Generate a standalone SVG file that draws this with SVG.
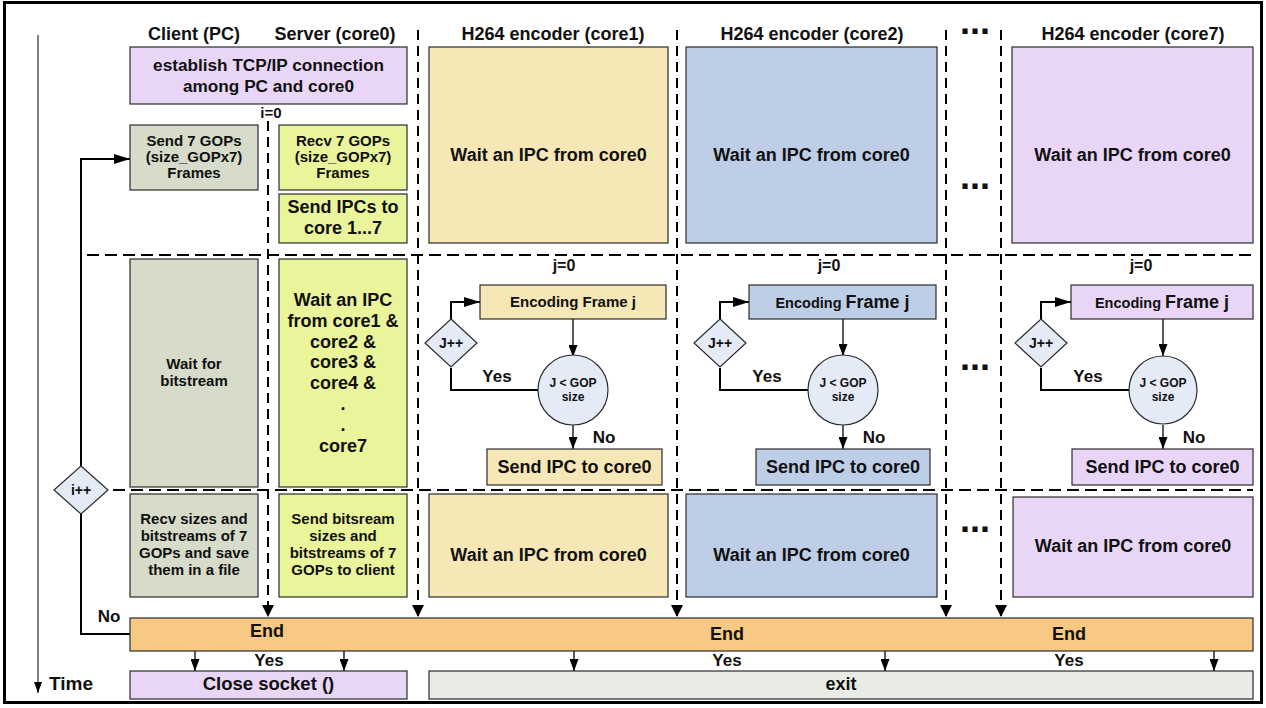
<svg xmlns="http://www.w3.org/2000/svg" width="1266" height="708" viewBox="0 0 1266 708">
<style>
text{font-family:"Liberation Sans",Arial,sans-serif;font-weight:bold;fill:#111;text-anchor:middle}
.box{stroke:#2b2b2b;stroke-width:1.2}
.tan{fill:#F6E7B6}.blue{fill:#BDCEE6}.pur{fill:#E9D6F6}.gg{fill:#D6DCC9}.yg{fill:#E9F49B}.org{fill:#F8C984}.lb{fill:#E4EBF6}.ex{fill:#E9ECE4}
.dv{fill:none;stroke:#000;stroke-width:2;stroke-dasharray:10 6}
.dh{fill:none;stroke:#000;stroke-width:2;stroke-dasharray:12 6}
.ln{fill:none;stroke:#000;stroke-width:1.3}
.lp{fill:none;stroke:#000;stroke-width:2}
.hd{font-size:18px}
.dots{font-size:36px}
.wt{font-size:18px}
</style>
<defs>
<marker id="big" markerUnits="userSpaceOnUse" markerWidth="12" markerHeight="12" refX="12" refY="6" orient="auto"><path d="M0,0 L12,6 L0,12 z" fill="#000" stroke="none"/></marker>
<marker id="lp" markerUnits="userSpaceOnUse" markerWidth="16" markerHeight="10" refX="16" refY="5" orient="auto"><path d="M0,0 L16,5 L0,10 z" fill="#000" stroke="none"/></marker>
<marker id="sm" markerUnits="userSpaceOnUse" markerWidth="12" markerHeight="9" refX="12" refY="4.5" orient="auto"><path d="M0,0 L12,4.5 L0,9 z" fill="#000" stroke="none"/></marker>
<marker id="tm" markerUnits="userSpaceOnUse" markerWidth="11" markerHeight="8" refX="11" refY="4" orient="auto"><path d="M0,0 L11,4 L0,8 z" fill="#000" stroke="none"/></marker>
</defs>
<rect x="0" y="0" width="1266" height="708" fill="#fff"/>
<rect x="4.5" y="2.5" width="1257" height="700" fill="none" stroke="#000" stroke-width="3"/>

<g id="time-axis">
<path d="M38,35 V693" fill="none" stroke="#555" stroke-width="1.5" marker-end="url(#tm)"/>
<text x="71" y="690" style="font-size:19px">Time</text>
</g>

<g id="headers">
<text class="hd" x="194" y="40">Client (PC)</text>
<text class="hd" x="335" y="40">Server (core0)</text>
<text class="hd" x="553" y="40">H264 encoder (core1)</text>
<text class="hd" x="812" y="40">H264 encoder (core2)</text>
<text class="hd" x="1133" y="40">H264 encoder (core7)</text>
<text class="dots" x="975" y="34">...</text>
<text class="dots" x="975" y="189">...</text>
<text class="dots" x="975" y="370">...</text>
<text class="dots" x="975" y="532">...</text>
</g>

<g id="connectors">
<path class="dv" d="M268,121 V617" marker-end="url(#big)"/>
<path class="dv" d="M418,30 V617" marker-end="url(#big)"/>
<path class="dv" d="M677,30 V617" marker-end="url(#big)"/>
<path class="dv" d="M946,30 V617" marker-end="url(#big)"/>
<path class="dv" d="M1001,30 V617" marker-end="url(#big)"/>
<path class="dh" d="M87,255 H1253"/>
<path class="dh" d="M113,490 H1253"/>
<path class="lp" d="M81,466 V159 H130" marker-end="url(#lp)"/>
<path class="lp" d="M81,514 V634 H130"/>
<path class="ln" d="M573,319 V357" marker-end="url(#sm)"/>
<path class="ln" d="M573,425 V449" marker-end="url(#sm)"/>
<path class="lp" d="M451,319 V302 H480" marker-end="url(#lp)"/>
<path class="lp" d="M451,368 V390 H538"/>
<path class="ln" d="M843,319 V356" marker-end="url(#sm)"/>
<path class="ln" d="M843,425 V449" marker-end="url(#sm)"/>
<path class="lp" d="M720,319 V302 H749" marker-end="url(#lp)"/>
<path class="lp" d="M720,368 V390 H808"/>
<path class="ln" d="M1163,319 V356" marker-end="url(#sm)"/>
<path class="ln" d="M1163,425 V449" marker-end="url(#sm)"/>
<path class="lp" d="M1041,319 V302 H1071" marker-end="url(#lp)"/>
<path class="lp" d="M1041,368 V390 H1129"/>
<path class="ln" d="M195,651 V671" marker-end="url(#sm)"/>
<path class="ln" d="M344,651 V671" marker-end="url(#sm)"/>
<path class="ln" d="M574,651 V671" marker-end="url(#sm)"/>
<path class="ln" d="M885,651 V671" marker-end="url(#sm)"/>
<path class="ln" d="M1214,651 V671" marker-end="url(#sm)"/>
<text x="271" y="118" style="font-size:15px">i=0</text>
<text x="109" y="622" style="font-size:17px">No</text>
<text x="269" y="666" style="font-size:17px">Yes</text>
<text x="727" y="666" style="font-size:17px">Yes</text>
<text x="1069" y="666" style="font-size:17px">Yes</text>
<text x="497" y="382" style="font-size:17px">Yes</text>
<text x="604" y="443" style="font-size:17px">No</text>
<text x="767" y="382" style="font-size:17px">Yes</text>
<text x="874" y="443" style="font-size:17px">No</text>
<text x="1088" y="382" style="font-size:17px">Yes</text>
<text x="1194" y="443" style="font-size:17px">No</text>
<text x="564" y="271" style="font-size:16px">j=0</text>
<text x="829" y="271" style="font-size:16px">j=0</text>
<text x="1141" y="271" style="font-size:16px">j=0</text>
</g>

<g id="establish">
<rect class="box pur" x="130" y="47" width="277" height="57"/>
<text x="268.5" y="71" style="font-size:17.2px">establish TCP/IP connection</text>
<text x="268.5" y="92" style="font-size:17.2px">among PC and core0</text>
</g>

<g id="send-gops">
<rect class="box gg" x="130" y="125" width="128" height="65"/>
<text x="194" y="146" style="font-size:15px">Send 7 GOPs</text>
<text x="194" y="162" style="font-size:15px">(size_GOPx7)</text>
<text x="194" y="178" style="font-size:15px">Frames</text>
</g>
<g id="recv-gops">
<rect class="box yg" x="279" y="125" width="128" height="65"/>
<text x="343" y="146" style="font-size:15px">Recv 7 GOPs</text>
<text x="343" y="162" style="font-size:15px">(size_GOPx7)</text>
<text x="343" y="178" style="font-size:15px">Frames</text>
</g>
<g id="send-ipcs">
<rect class="box yg" x="279" y="194" width="128" height="49"/>
<text x="343" y="213" style="font-size:18px">Send IPCs to</text>
<text x="343" y="234" style="font-size:18px">core 1...7</text>
</g>

<g id="core1-wait1">
<rect class="box tan" x="429" y="47" width="239" height="196"/>
<text class="wt" x="548.5" y="161">Wait an IPC from core0</text>
</g>
<g id="core2-wait1">
<rect class="box blue" x="686" y="47" width="251" height="196"/>
<text class="wt" x="811.5" y="161">Wait an IPC from core0</text>
</g>
<g id="core7-wait1">
<rect class="box pur" x="1012" y="47" width="241" height="196"/>
<text class="wt" x="1132.5" y="161">Wait an IPC from core0</text>
</g>

<g id="wait-bitstream">
<rect class="box gg" x="130" y="259" width="128" height="228"/>
<text x="194" y="369" style="font-size:15px">Wait for</text>
<text x="194" y="386" style="font-size:15px">bitstream</text>
</g>
<g id="wait-ipc-cores">
<rect class="box yg" x="279" y="259" width="128" height="228"/>
<text x="343" y="306" style="font-size:18px">Wait an IPC</text>
<text x="343" y="326.8" style="font-size:18px">from core1 &amp;</text>
<text x="343" y="347.6" style="font-size:18px">core2 &amp;</text>
<text x="343" y="368.4" style="font-size:18px">core3 &amp;</text>
<text x="343" y="389.2" style="font-size:18px">core4 &amp;</text>
<text x="343" y="410" style="font-size:18px">.</text>
<text x="343" y="430.8" style="font-size:18px">.</text>
<text x="343" y="451.6" style="font-size:18px">core7</text>
</g>

<g id="i-inc">
<polygon class="box lb" points="81,466 108,490 81,514 54,490"/>
<text x="81" y="495" style="font-size:14px">i++</text>
</g>

<g id="core1-encode">
<rect class="box tan" x="480" y="285" width="186" height="34"/>
<text x="573" y="307" style="font-size:15px">Encoding Frame j</text>
</g>
<g id="core1-cond">
<circle class="box lb" cx="573" cy="390" r="35"/>
<text x="573" y="387" style="font-size:12px">J &lt; GOP</text>
<text x="573" y="401" style="font-size:12px">size</text>
</g>
<g id="core1-jinc">
<polygon class="box lb" points="451,319 477,343 451,367 425,343"/>
<text x="451" y="348" style="font-size:14px">J++</text>
</g>
<g id="core1-send">
<rect class="box tan" x="487" y="449" width="175" height="36"/>
<text x="574.5" y="473" style="font-size:18px">Send IPC to core0</text>
</g>

<g id="core2-encode">
<rect class="box blue" x="749" y="285" width="187" height="34"/>
<text x="842.5" y="308"><tspan style="font-size:14.5px">Encoding </tspan><tspan style="font-size:18px">Frame j</tspan></text>
</g>
<g id="core2-cond">
<circle class="box lb" cx="843" cy="390" r="35"/>
<text x="843" y="387" style="font-size:12px">J &lt; GOP</text>
<text x="843" y="401" style="font-size:12px">size</text>
</g>
<g id="core2-jinc">
<polygon class="box lb" points="720,319 746,343 720,367 694,343"/>
<text x="720" y="348" style="font-size:14px">J++</text>
</g>
<g id="core2-send">
<rect class="box blue" x="756" y="449" width="174" height="36"/>
<text x="843" y="473" style="font-size:18px">Send IPC to core0</text>
</g>

<g id="core7-encode">
<rect class="box pur" x="1071" y="285" width="182" height="34"/>
<text x="1162" y="308"><tspan style="font-size:14.5px">Encoding </tspan><tspan style="font-size:18px">Frame j</tspan></text>
</g>
<g id="core7-cond">
<circle class="box lb" cx="1163" cy="390" r="34"/>
<text x="1163" y="387" style="font-size:12px">J &lt; GOP</text>
<text x="1163" y="401" style="font-size:12px">size</text>
</g>
<g id="core7-jinc">
<polygon class="box lb" points="1041,319 1067,343 1041,367 1015,343"/>
<text x="1041" y="348" style="font-size:14px">J++</text>
</g>
<g id="core7-send">
<rect class="box pur" x="1072" y="449" width="181" height="36"/>
<text x="1162.5" y="473" style="font-size:18px">Send IPC to core0</text>
</g>

<g id="recv-sizes">
<rect class="box gg" x="130" y="494" width="128" height="103"/>
<text x="194" y="524" style="font-size:15px">Recv sizes and</text>
<text x="194" y="541" style="font-size:15px">bitstreams of 7</text>
<text x="194" y="558" style="font-size:15px">GOPs and save</text>
<text x="194" y="575" style="font-size:15px">them in a file</text>
</g>
<g id="send-bitstream">
<rect class="box yg" x="279" y="494" width="128" height="103"/>
<text x="343" y="524" style="font-size:15px">Send bitsream</text>
<text x="343" y="541" style="font-size:15px">sizes and</text>
<text x="343" y="558" style="font-size:15px">bitstreams of 7</text>
<text x="343" y="575" style="font-size:15px">GOPs to client</text>
</g>

<g id="core1-wait2">
<rect class="box tan" x="429" y="494" width="239" height="103"/>
<text class="wt" x="548.5" y="561">Wait an IPC from core0</text>
</g>
<g id="core2-wait2">
<rect class="box blue" x="686" y="494" width="251" height="103"/>
<text class="wt" x="811.5" y="561">Wait an IPC from core0</text>
</g>
<g id="core7-wait2">
<rect class="box pur" x="1013" y="497" width="240" height="100"/>
<text class="wt" x="1133" y="552">Wait an IPC from core0</text>
</g>

<g id="end">
<rect class="box org" x="130" y="618" width="1123" height="33"/>
<text x="267" y="637" style="font-size:18px">End</text>
<text x="727" y="640" style="font-size:18px">End</text>
<text x="1069" y="640" style="font-size:18px">End</text>
</g>

<g id="close-socket">
<rect class="box pur" x="130" y="671" width="277" height="28"/>
<text x="268.5" y="690" style="font-size:18.5px">Close socket ()</text>
</g>
<g id="exit">
<rect class="box ex" x="429" y="671" width="824" height="28"/>
<text x="841" y="690" style="font-size:18px">exit</text>
</g>
</svg>
